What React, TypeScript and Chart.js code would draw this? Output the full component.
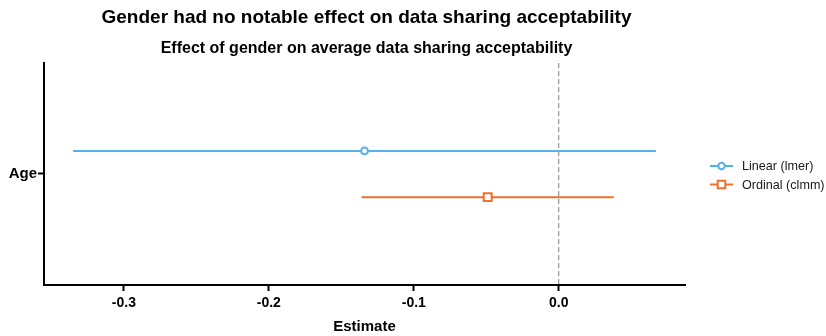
import React, { useEffect, useRef } from "react";
import { Chart, registerables } from "chart.js";

Chart.register(...registerables);

// ---- data ----
const terms = ["Age"];
const models = ["Linear (lmer)", "Ordinal (clmm)"];
const estimates = [-0.134, -0.049];
const lowerCI = [-0.335, -0.136];
const upperCI = [0.067, 0.038];
const xTickValues = [-0.3, -0.2, -0.1, 0.0];

const titleText = "Gender had no notable effect on data sharing acceptability";
const subtitleText = "Effect of gender on average data sharing acceptability";
const xAxisTitle = "Estimate";

// ---- styling ----
const FONT = "'Liberation Sans', Arial, Helvetica, sans-serif";
const colors = ["#56B1EA", "#EB722D"];
const pointStyles = ["circle", "rect"] as const;
const pointRadii = [3.4, 5.6];
const dodge = [-0.125, 0.125];

// x range: data extent expanded by 5% each side
const lo = Math.min(...lowerCI);
const hi = Math.max(...upperCI);
const pad = (hi - lo) * 0.05;
const xMin = lo - pad;
const xMax = hi + pad;

function drawKeyMarker(ctx: CanvasRenderingContext2D, style: string, x: number, y: number, color: string) {
  ctx.save();
  ctx.lineWidth = 2;
  ctx.strokeStyle = color;
  ctx.fillStyle = "#ffffff";
  ctx.beginPath();
  if (style === "circle") {
    ctx.arc(x, y, 3.2, 0, Math.PI * 2);
  } else {
    ctx.rect(x - 3.8, y - 3.8, 7.6, 7.6);
  }
  ctx.fill();
  ctx.stroke();
  ctx.restore();
}

const decorations = {
  id: "decorations",
  beforeDatasetsDraw(chart: any) {
    const { ctx, chartArea, scales } = chart;
    const x0 = scales.x.getPixelForValue(0);
    ctx.save();
    ctx.strokeStyle = "#7f7f7f";
    ctx.lineWidth = 1;
    ctx.setLineDash([5, 3]);
    ctx.beginPath();
    ctx.moveTo(x0, chartArea.top);
    ctx.lineTo(x0, chartArea.bottom);
    ctx.stroke();
    ctx.restore();
  },
  afterDraw(chart: any) {
    const { ctx, chartArea } = chart;
    const cx = (chartArea.left + chartArea.right) / 2 + 2;
    ctx.save();
    ctx.fillStyle = "#000000";
    ctx.textAlign = "center";
    ctx.textBaseline = "alphabetic";
    ctx.font = `bold 19px ${FONT}`;
    ctx.fillText(titleText, cx, 23);
    ctx.font = `bold 16px ${FONT}`;
    ctx.fillText(subtitleText, cx, 53);

    // legend
    const keyX = 710;
    const keyW = 23;
    const rowY = [166, 184.5];
    ctx.font = `12.6px ${FONT}`;
    ctx.textAlign = "left";
    ctx.textBaseline = "middle";
    models.forEach((m, i) => {
      const y = rowY[i];
      ctx.strokeStyle = colors[i];
      ctx.lineWidth = 2;
      ctx.setLineDash([]);
      ctx.beginPath();
      ctx.moveTo(keyX, y);
      ctx.lineTo(keyX + keyW, y);
      ctx.stroke();
      drawKeyMarker(ctx, pointStyles[i], keyX + keyW / 2, y, colors[i]);
      ctx.fillStyle = "#1a1a1a";
      ctx.fillText(m, 742, y + 1);
    });
    ctx.restore();
  },
};

export default function App() {
  const canvasRef = useRef<HTMLCanvasElement | null>(null);

  useEffect(() => {
    if (!canvasRef.current) return;

    const datasets: any[] = [];
    models.forEach((m, i) => {
      const termIdx = 0;
      const y = termIdx + 1 + dodge[i];
      datasets.push({
        type: "line",
        label: m + " CI",
        data: [
          { x: lowerCI[i], y },
          { x: upperCI[i], y },
        ],
        borderColor: colors[i],
        borderWidth: 2,
        pointRadius: 0,
        order: 2,
      });
      datasets.push({
        type: "scatter",
        label: m,
        data: [{ x: estimates[i], y }],
        pointStyle: pointStyles[i],
        pointRadius: pointRadii[i],
        pointBorderWidth: 2,
        pointBorderColor: colors[i],
        pointBackgroundColor: "#ffffff",
        borderColor: colors[i],
        backgroundColor: "#ffffff",
        order: 1,
      });
    });

    const chart = new Chart(canvasRef.current, {
      type: "scatter",
      data: { datasets },
      options: {
        responsive: false,
        animation: false,
        layout: { padding: { top: 63, left: 0, right: 141, bottom: 0 } },
        plugins: {
          legend: { display: false },
          title: { display: false },
          tooltip: { enabled: false },
        },
        scales: {
          x: {
            type: "linear",
            min: xMin,
            max: xMax,
            afterBuildTicks: (scale: any) => {
              scale.ticks = xTickValues.map((v) => ({ value: v }));
            },
            afterFit: (scale: any) => {
              scale.height = 51;
            },
            ticks: {
              callback: (v: any) => Number(v).toFixed(1),
              color: "#000000",
              font: { family: FONT, size: 14, weight: "bold" },
              padding: 4,
              autoSkip: false,
              maxRotation: 0,
            },
            grid: {
              display: true,
              drawOnChartArea: false,
              drawTicks: true,
              tickLength: 6,
              tickColor: "#000000",
              tickWidth: 2,
            },
            border: { display: true, color: "#000000", width: 2 },
            title: {
              display: true,
              text: xAxisTitle,
              color: "#000000",
              font: { family: FONT, size: 15, weight: "bold" },
              padding: { top: 0, bottom: 0 },
            },
          },
          y: {
            type: "linear",
            min: 0.4,
            max: 1.6,
            reverse: true,
            afterBuildTicks: (scale: any) => {
              scale.ticks = terms.map((_, i) => ({ value: i + 1 }));
            },
            afterFit: (scale: any) => {
              scale.width = 44;
            },
            ticks: {
              callback: (v: any) => terms[Math.round(Number(v)) - 1] ?? "",
              color: "#000000",
              font: { family: FONT, size: 15, weight: "bold" },
              padding: 1,
            },
            grid: {
              display: true,
              drawOnChartArea: false,
              drawTicks: true,
              tickLength: 6,
              tickColor: "#000000",
              tickWidth: 2,
            },
            border: { display: true, color: "#000000", width: 2 },
          },
        },
      },
      plugins: [decorations],
    });

    return () => chart.destroy();
  }, []);

  return (
    <div style={{ position: "absolute", left: 0, top: 0, width: 826, height: 336 }}>
      <canvas ref={canvasRef} width={826} height={336} />
    </div>
  );
}
